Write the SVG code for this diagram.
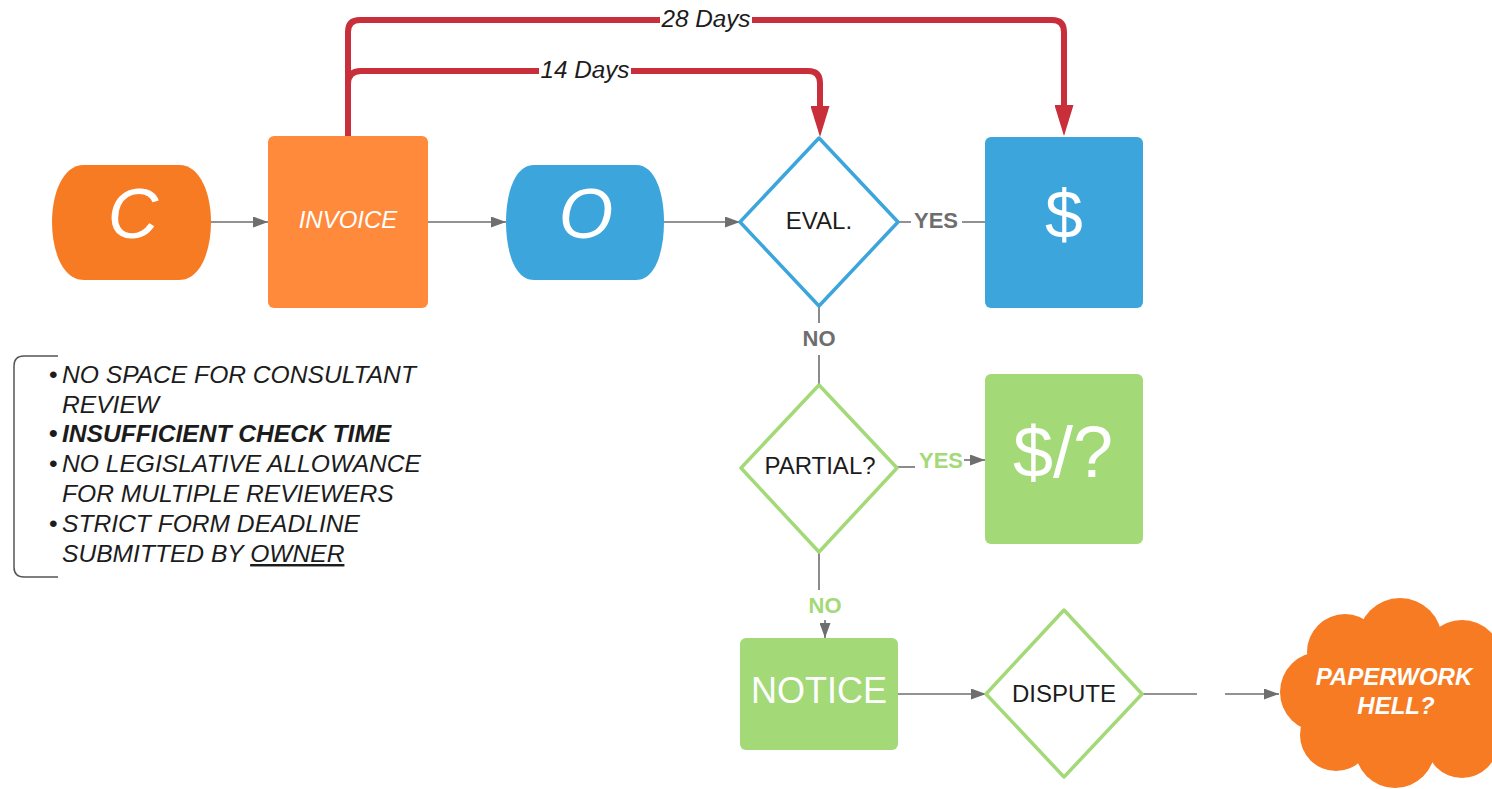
<svg xmlns="http://www.w3.org/2000/svg" width="1492" height="789" viewBox="0 0 1492 789">
<style>
text{font-family:"Liberation Sans",Arial,sans-serif}
.wt{fill:#fff}
.it{font-style:italic}
.bk{fill:#1c1c1c}
.gl{fill:none;stroke:#6e6e6e;stroke-width:1.6}
.red{fill:none;stroke:#c92f3b;stroke-width:6;stroke-linecap:butt}
.lbl{font-size:22px;font-weight:bold}
.list{font-size:24.6px;font-style:italic;fill:#1c1c1c}
</style>
<defs>
<marker id="ga" markerUnits="userSpaceOnUse" markerWidth="15" markerHeight="11" viewBox="0 0 15 11" refX="15" refY="5.5" orient="auto"><path d="M0,0 L15,5.5 L0,11 z" fill="#6e6e6e"/></marker>
<marker id="ra" markerUnits="userSpaceOnUse" markerWidth="31" markerHeight="19" viewBox="0 0 31 19" refX="0" refY="9.5" orient="auto"><path d="M0,0 L31,9.5 L0,19 z" fill="#c92f3b"/></marker>
</defs>

<g id="connectors">
<path class="red" d="M348,136 V32 Q348,20 360,20 H1052 Q1064,20 1064,32 V105" marker-end="url(#ra)"/>
<path class="red" d="M348,84 Q348,71 361,71 H808 Q820,71 820,83 V106" marker-end="url(#ra)"/>
<rect x="660" y="6" width="92" height="26" fill="#fff"/>
<text x="706" y="27" class="it bk" font-size="23" text-anchor="middle" textLength="89" lengthAdjust="spacingAndGlyphs">28 Days</text>
<rect x="539" y="57" width="92" height="26" fill="#fff"/>
<text x="585" y="78" class="it bk" font-size="23" text-anchor="middle" textLength="89" lengthAdjust="spacingAndGlyphs">14 Days</text>
<path class="gl" d="M211,222 H268" marker-end="url(#ga)"/>
<path class="gl" d="M428,222 H506" marker-end="url(#ga)"/>
<path class="gl" d="M664,222 H740" marker-end="url(#ga)"/>
<path class="gl" d="M898,222 H911 M962,222 H985"/>
<text x="936" y="228" class="lbl" fill="#6e6e6e" text-anchor="middle">YES</text>
<path class="gl" d="M819,306 V323 M819,355 V385"/>
<text x="819" y="346" class="lbl" fill="#6e6e6e" text-anchor="middle">NO</text>
<path class="gl" d="M897,467 H915"/>
<path class="gl" d="M964,460 H985" marker-end="url(#ga)"/>
<text x="941" y="468" class="lbl" fill="#a3d977" text-anchor="middle">YES</text>
<path class="gl" d="M819,552 V590"/>
<path class="gl" d="M825,620 V638" marker-end="url(#ga)"/>
<text x="825" y="613" class="lbl" fill="#a3d977" text-anchor="middle">NO</text>
<path class="gl" d="M898,694 H986" marker-end="url(#ga)"/>
<path class="gl" d="M1142,694 H1197"/>
<path class="gl" d="M1225,694 H1279" marker-end="url(#ga)"/>
</g>

<g id="node-c">
<path d="M84,165 H179 C201,165 211,195 211,222 C211,250 201,280 179,280 H84 C62,280 52,250 52,222 C52,195 62,165 84,165 Z" fill="#f77b22"/>
<text x="133" y="238" class="wt it" font-size="70" text-anchor="middle">C</text>
</g>

<g id="node-invoice">
<rect x="268" y="136" width="160" height="172" rx="6" fill="#ff8a3b"/>
<text x="348" y="228" class="wt it" font-size="24" text-anchor="middle">INVOICE</text>
</g>

<g id="node-o">
<path d="M534,165 H636 C656,165 664,195 664,222 C664,250 656,280 636,280 H534 C514,280 506,250 506,222 C506,195 514,165 534,165 Z" fill="#3ba5dc"/>
<text x="586" y="238" class="wt it" font-size="70" text-anchor="middle">O</text>
</g>

<g id="node-eval">
<path d="M819,138 L898,222 L819,306 L740,222 Z" fill="#fff" stroke="#3ba5dc" stroke-width="3.5" stroke-linejoin="round"/>
<text x="819" y="229" class="bk" font-size="24" text-anchor="middle">EVAL.</text>
</g>

<g id="node-pay">
<rect x="985" y="137" width="158" height="171" rx="6" fill="#3ba5dc"/>
<text x="1064" y="238" class="wt" font-size="68" text-anchor="middle">$</text>
</g>

<g id="node-partial">
<path d="M819,385 L897,468 L819,552 L741,468 Z" fill="#fff" stroke="#a3d977" stroke-width="3.5" stroke-linejoin="round"/>
<text x="820" y="474" class="bk" font-size="24" text-anchor="middle">PARTIAL?</text>
</g>

<g id="node-partial-pay">
<rect x="985" y="374" width="158" height="170" rx="6" fill="#a3d977"/>
<text x="1063" y="477" class="wt" font-size="72" text-anchor="middle">$/?</text>
</g>

<g id="node-notice">
<rect x="740" y="638" width="158" height="112" rx="6" fill="#a3d977"/>
<text x="819" y="703" class="wt" font-size="36" text-anchor="middle">NOTICE</text>
</g>

<g id="node-dispute">
<path d="M1064,610 L1142,694 L1064,777 L986,694 Z" fill="#fff" stroke="#a3d977" stroke-width="3.5" stroke-linejoin="round"/>
<text x="1064" y="702" class="bk" font-size="24" text-anchor="middle">DISPUTE</text>
</g>

<g id="node-cloud" fill="#f77b22">
<circle cx="1320" cy="692" r="40"/>
<circle cx="1345" cy="652" r="38"/>
<circle cx="1400" cy="640" r="42"/>
<circle cx="1462" cy="660" r="40"/>
<circle cx="1488" cy="702" r="36"/>
<circle cx="1336" cy="735" r="36"/>
<circle cx="1395" cy="748" r="40"/>
<circle cx="1462" cy="742" r="36"/>
<ellipse cx="1400" cy="697" rx="85" ry="62"/>
<text x="1394" y="685" class="wt it" font-size="24" font-weight="bold" text-anchor="middle">PAPERWORK</text>
<text x="1396" y="714" class="wt it" font-size="24" font-weight="bold" text-anchor="middle">HELL?</text>
</g>

<g id="notes">
<path d="M58,356 H24 Q14,356 14,366 V567 Q14,577 24,577 H58" fill="none" stroke="#555" stroke-width="1.5"/>
<text class="list"><tspan x="49" y="383" font-style="normal">•</tspan><tspan x="62" y="383">NO SPACE FOR CONSULTANT</tspan></text>
<text class="list" x="62" y="413">REVIEW</text>
<text class="list" font-weight="bold"><tspan x="49" y="442" font-style="normal">•</tspan><tspan x="62" y="442">INSUFFICIENT CHECK TIME</tspan></text>
<text class="list"><tspan x="49" y="472" font-style="normal">•</tspan><tspan x="62" y="472">NO LEGISLATIVE ALLOWANCE</tspan></text>
<text class="list" x="62" y="502">FOR MULTIPLE REVIEWERS</text>
<text class="list"><tspan x="49" y="532" font-style="normal">•</tspan><tspan x="62" y="532">STRICT FORM DEADLINE</tspan></text>
<text class="list" x="62" y="562">SUBMITTED BY <tspan text-decoration="underline">OWNER</tspan></text>
</g>
</svg>
